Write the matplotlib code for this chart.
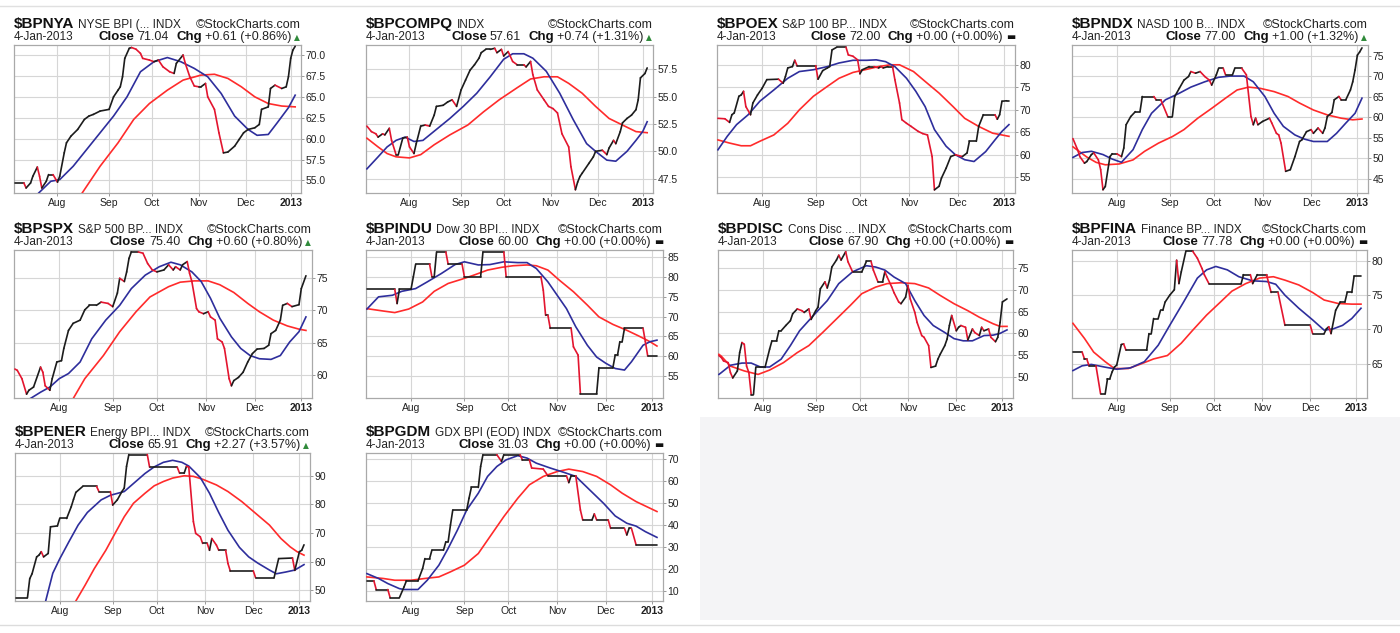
import matplotlib
matplotlib.use("Agg")
import matplotlib.pyplot as plt
from matplotlib.collections import LineCollection
from matplotlib.patches import Rectangle
from matplotlib.lines import Line2D
import numpy as np
import pandas as pd

plt.rcParams['font.family'] = ['Liberation Sans', 'DejaVu Sans']

# trading sessions shown on every chart
FIRST_DAY = "2012-07-05"
LAST_DAY = "2013-01-04"
HOLIDAYS = ["2012-09-03", "2012-10-29", "2012-10-30", "2012-11-22", "2012-12-25", "2013-01-01"]

SYMBOLS = ["$BPNYA", "$BPCOMPQ", "$BPOEX", "$BPNDX",
           "$BPSPX", "$BPINDU", "$BPDISC", "$BPFINA",
           "$BPENER", "$BPGDM"]
NAMES = ["NYSE BPI (... INDX", "INDX", "S&P 100 BP... INDX", "NASD 100 B... INDX",
         "S&P 500 BP... INDX", "Dow 30 BPI... INDX", "Cons Disc ... INDX", "Finance BP... INDX",
         "Energy BPI... INDX", "GDX BPI (EOD) INDX"]
CLOSES = ["71.04", "57.61", "72.00", "77.00", "75.40", "60.00", "67.90", "77.78", "65.91", "31.03"]
CHANGES = ["+0.61 (+0.86%)", "+0.74 (+1.31%)", "+0.00 (+0.00%)", "+1.00 (+1.32%)",
           "+0.60 (+0.80%)", "+0.00 (+0.00%)", "+0.00 (+0.00%)", "+0.00 (+0.00%)",
           "+2.27 (+3.57%)", "+0.00 (+0.00%)"]
DATE_LABEL = "4-Jan-2013"

YTICKS = [
    [55.0, 57.5, 60.0, 62.5, 65.0, 67.5, 70.0],
    [47.5, 50.0, 52.5, 55.0, 57.5],
    [55, 60, 65, 70, 75, 80],
    [45, 50, 55, 60, 65, 70, 75],
    [60, 65, 70, 75],
    [55, 60, 65, 70, 75, 80, 85],
    [50, 55, 60, 65, 70, 75],
    [65, 70, 75, 80],
    [50, 60, 70, 80, 90],
    [10, 20, 30, 40, 50, 60, 70],
]

# ---- $BPNYA
NYA_CLOSE = [("07-05", 54.7), ("07-11", 54.7), ("07-12", 54.1), ("07-16", 54.7), ("07-17", 55.5),
             ("07-19", 56.6), ("07-20", 55.5), ("07-23", 54.1), ("07-25", 54.9), ("07-26", 55.7),
             ("07-30", 55.7), ("08-01", 54.8), ("08-02", 55.5), ("08-06", 58.3), ("08-07", 59.5),
             ("08-09", 60.3), ("08-14", 61.1), ("08-17", 62.3), ("08-21", 62.7), ("08-23", 62.9),
             ("08-28", 63.3), ("09-04", 63.5), ("09-06", 65.0), ("09-10", 65.8), ("09-11", 66.2),
             ("09-12", 67.4), ("09-13", 69.6), ("09-17", 70.8), ("09-18", 70.9), ("09-20", 70.7),
             ("09-24", 70.2), ("09-25", 69.6), ("09-28", 69.4), ("10-02", 69.2), ("10-04", 69.4),
             ("10-08", 68.6), ("10-11", 68.0), ("10-15", 67.8), ("10-16", 69.0), ("10-19", 70.0),
             ("10-22", 69.0), ("10-24", 67.4), ("10-26", 66.3), ("11-01", 66.2), ("11-02", 66.2),
             ("11-06", 66.6), ("11-07", 65.0), ("11-12", 63.5), ("11-14", 60.7), ("11-16", 58.3),
             ("11-20", 58.4), ("11-26", 59.1), ("11-28", 59.9), ("11-30", 60.7), ("12-04", 61.1),
             ("12-07", 61.3), ("12-11", 61.7), ("12-12", 63.5), ("12-17", 63.8), ("12-18", 66.0),
             ("12-20", 66.4), ("12-26", 66.0), ("12-28", 66.2), ("12-31", 67.4), ("01-02", 69.6),
             ("01-03", 70.6), ("01-04", 71.04)]
NYA_MA10 = [("07-17", 52.8), ("07-20", 53.6), ("07-27", 54.9), ("08-02", 55.1), ("08-10", 56.7),
            ("08-20", 58.7), ("08-28", 60.7), ("09-06", 62.7), ("09-14", 65.0), ("09-24", 68.0),
            ("10-02", 69.2), ("10-10", 69.7), ("10-18", 69.2), ("10-26", 68.4), ("11-07", 67.4),
            ("11-15", 65.4), ("11-26", 62.7), ("12-04", 61.1), ("12-10", 60.4), ("12-17", 60.5),
            ("12-21", 61.9), ("12-31", 63.7), ("01-04", 65.2)]
NYA_MA30 = [("08-14", 52.8), ("08-16", 53.5), ("08-28", 56.7), ("09-10", 59.5), ("09-19", 62.3),
            ("09-28", 64.2), ("10-10", 65.8), ("10-19", 67.0), ("11-02", 67.6), ("11-12", 67.7),
            ("11-20", 67.2), ("11-29", 66.2), ("12-07", 65.0), ("12-17", 64.2), ("12-26", 63.9),
            ("01-04", 63.8)]

# ---- $BPCOMPQ
COMPQ_CLOSE = [("07-05", 52.3), ("07-09", 51.8), ("07-11", 51.6), ("07-12", 51.3), ("07-16", 51.6),
               ("07-17", 51.5), ("07-19", 52.1), ("07-20", 51.0), ("07-24", 49.7), ("07-25", 49.7),
               ("07-27", 51.2), ("07-31", 51.3), ("08-01", 50.4), ("08-03", 49.8), ("08-06", 50.7),
               ("08-08", 52.3), ("08-10", 52.4), ("08-14", 52.3), ("08-16", 53.3), ("08-17", 54.1),
               ("08-22", 54.2), ("08-24", 54.5), ("08-28", 54.7), ("08-30", 54.1), ("09-04", 55.6),
               ("09-06", 56.5), ("09-10", 57.4), ("09-12", 57.9), ("09-14", 58.5), ("09-17", 59.0),
               ("09-19", 59.3), ("09-21", 59.3), ("09-25", 59.4), ("09-26", 59.0), ("09-28", 59.3),
               ("10-01", 58.7), ("10-03", 59.1), ("10-05", 58.2), ("10-09", 57.9), ("10-12", 57.9),
               ("10-15", 57.7), ("10-17", 58.2), ("10-18", 57.0), ("10-22", 55.6), ("10-25", 54.7),
               ("10-31", 54.1), ("11-02", 53.9), ("11-06", 53.5), ("11-08", 51.6), ("11-13", 50.4),
               ("11-14", 48.6), ("11-16", 46.5), ("11-19", 47.2), ("11-20", 47.7), ("11-21", 48.0),
               ("11-27", 48.9), ("11-29", 49.5), ("11-30", 50.0), ("12-05", 50.1), ("12-07", 49.7),
               ("12-10", 50.3), ("12-12", 51.0), ("12-13", 50.7), ("12-17", 51.8), ("12-18", 52.6),
               ("12-20", 53.0), ("12-24", 53.3), ("12-27", 53.8), ("12-28", 54.7), ("12-31", 56.7),
               ("01-03", 57.1), ("01-04", 57.61)]
COMPQ_MA10 = [("07-05", 48.4), ("07-12", 49.5), ("07-18", 50.4), ("07-24", 51.0), ("07-30", 51.3),
              ("08-03", 50.9), ("08-09", 51.0), ("08-17", 52.0), ("08-27", 53.0), ("09-05", 54.1),
              ("09-13", 55.3), ("09-21", 56.8), ("10-01", 58.4), ("10-05", 58.9), ("10-12", 58.9),
              ("10-18", 58.5), ("10-26", 57.3), ("11-07", 55.3), ("11-15", 52.9), ("11-26", 50.7),
              ("11-30", 50.0), ("12-07", 49.2), ("12-13", 49.1), ("12-20", 50.0), ("12-27", 51.0),
              ("01-02", 51.8), ("01-04", 52.7)]
COMPQ_MA30 = [("07-05", 51.2), ("07-12", 50.4), ("07-18", 49.8), ("07-24", 49.5), ("08-01", 49.4),
              ("08-08", 49.7), ("08-16", 50.6), ("08-27", 51.5), ("09-07", 52.4), ("09-18", 53.6),
              ("09-27", 54.7), ("10-09", 55.8), ("10-17", 56.6), ("10-25", 56.8), ("11-06", 56.8),
              ("11-13", 56.2), ("11-21", 55.3), ("11-30", 54.1), ("12-10", 53.0), ("12-18", 52.4),
              ("12-27", 51.8), ("01-04", 51.7)]

# ---- $BPOEX
OEX_CLOSE = [("07-05", 68.1), ("07-10", 68.0), ("07-12", 67.2), ("07-13", 68.9), ("07-16", 69.3),
             ("07-18", 73.0), ("07-19", 73.3), ("07-20", 74.1), ("07-23", 70.7), ("07-25", 68.9),
             ("07-26", 71.5), ("07-30", 73.3), ("08-01", 74.8), ("08-03", 76.7), ("08-10", 76.8),
             ("08-14", 75.9), ("08-15", 77.4), ("08-16", 79.3), ("08-20", 79.6), ("08-21", 81.0),
             ("08-22", 79.8), ("09-04", 79.8), ("09-05", 76.8), ("09-07", 78.7), ("09-11", 79.3),
             ("09-12", 79.6), ("09-13", 83.3), ("09-17", 83.9), ("09-21", 83.9), ("09-24", 82.2),
             ("09-26", 81.9), ("09-28", 81.1), ("10-01", 78.0), ("10-02", 78.9), ("10-05", 79.6),
             ("10-09", 79.6), ("10-11", 79.3), ("10-12", 79.6), ("10-15", 79.3), ("10-17", 79.6),
             ("10-19", 79.6), ("10-22", 76.7), ("10-24", 71.5), ("10-25", 67.8), ("10-31", 67.0),
             ("11-02", 66.3), ("11-07", 65.2), ("11-09", 64.7), ("11-13", 64.4), ("11-15", 59.6),
             ("11-16", 52.2), ("11-20", 53.0), ("11-21", 54.8), ("11-26", 57.0), ("11-28", 59.6),
             ("11-30", 60.0), ("12-05", 59.6), ("12-07", 60.4), ("12-10", 63.0), ("12-13", 63.0),
             ("12-14", 66.3), ("12-18", 68.9), ("12-26", 68.9), ("12-27", 67.9), ("12-28", 68.9),
             ("12-31", 71.9), ("01-03", 72.0), ("01-04", 72.0)]
OEX_MA10 = [("07-05", 61.1), ("07-11", 64.1), ("07-17", 66.7), ("07-24", 68.9), ("07-31", 71.9),
            ("08-08", 74.4), ("08-16", 77.0), ("08-23", 78.5), ("08-31", 78.9), ("09-11", 79.6),
            ("09-18", 80.4), ("09-26", 81.0), ("10-04", 81.0), ("10-10", 81.1), ("10-16", 80.7),
            ("10-22", 79.6), ("10-31", 77.0), ("11-06", 74.1), ("11-12", 70.7), ("11-16", 65.6),
            ("11-26", 61.9), ("11-30", 60.0), ("12-06", 58.9), ("12-12", 58.5), ("12-19", 60.7),
            ("12-26", 63.3), ("12-31", 65.2), ("01-04", 66.7)]
OEX_MA30 = [("07-05", 63.3), ("07-12", 62.6), ("07-19", 62.0), ("07-25", 62.0), ("07-31", 63.0),
            ("08-08", 64.4), ("08-16", 67.0), ("08-23", 70.0), ("08-31", 73.0), ("09-11", 75.2),
            ("09-18", 77.0), ("09-26", 78.3), ("10-04", 79.0), ("10-11", 79.6), ("10-18", 80.0),
            ("10-24", 80.0), ("11-05", 78.5), ("11-12", 76.3), ("11-20", 73.7), ("11-29", 70.7),
            ("12-06", 68.1), ("12-14", 66.3), ("12-24", 64.8), ("12-31", 64.4), ("01-04", 64.1)]

# ---- $BPNDX
NDX_CLOSE = [("07-05", 54.8), ("07-09", 52.1), ("07-10", 50.4), ("07-12", 48.8), ("07-13", 49.2),
             ("07-17", 50.9), ("07-18", 51.3), ("07-20", 49.6), ("07-23", 47.2), ("07-24", 42.3),
             ("07-25", 43.1), ("07-27", 50.4), ("07-30", 51.1), ("08-01", 51.1), ("08-03", 50.4),
             ("08-06", 52.5), ("08-07", 58.2), ("08-09", 60.2), ("08-13", 61.4), ("08-15", 61.4),
             ("08-16", 65.1), ("08-23", 65.1), ("08-24", 64.3), ("08-28", 64.3), ("08-31", 60.2),
             ("09-05", 60.2), ("09-06", 65.1), ("09-10", 67.1), ("09-12", 69.1), ("09-14", 70.0),
             ("09-17", 71.2), ("09-19", 70.8), ("09-21", 71.2), ("09-25", 70.0), ("09-27", 69.1),
             ("09-28", 67.9), ("10-02", 70.4), ("10-03", 72.0), ("10-05", 72.0), ("10-08", 70.4),
             ("10-11", 70.4), ("10-12", 72.0), ("10-17", 72.0), ("10-19", 70.4), ("10-23", 60.2),
             ("10-24", 58.2), ("10-25", 59.8), ("10-26", 58.2), ("11-01", 59.0), ("11-06", 59.8),
             ("11-07", 58.6), ("11-09", 56.1), ("11-12", 55.7), ("11-13", 53.7), ("11-15", 46.8),
             ("11-19", 47.2), ("11-21", 50.4), ("11-26", 54.1), ("11-27", 54.5), ("11-29", 56.5),
             ("12-03", 57.0), ("12-04", 56.1), ("12-06", 57.4), ("12-10", 56.1), ("12-11", 57.4),
             ("12-12", 60.2), ("12-14", 61.2), ("12-17", 64.3), ("12-19", 65.1), ("12-20", 64.3),
             ("12-24", 64.3), ("12-27", 66.7), ("12-28", 68.7), ("12-31", 71.6), ("01-02", 75.2),
             ("01-03", 76.0), ("01-04", 77.0)]
NDX_MA10 = [("07-05", 50.2), ("07-11", 51.4), ("07-17", 51.7), ("07-24", 50.9), ("07-30", 49.8),
            ("08-03", 49.0), ("08-10", 52.1), ("08-16", 57.0), ("08-22", 61.0), ("08-30", 64.3),
            ("09-10", 65.9), ("09-17", 67.4), ("09-25", 68.7), ("10-03", 69.8), ("10-10", 70.1),
            ("10-18", 70.1), ("10-24", 68.7), ("11-02", 65.1), ("11-08", 61.0), ("11-14", 57.8),
            ("11-21", 55.7), ("11-28", 54.7), ("12-04", 54.1), ("12-12", 54.1), ("12-18", 56.1),
            ("12-24", 58.6), ("12-31", 61.0), ("01-04", 64.7)]
NDX_MA30 = [("07-05", 52.8), ("07-13", 50.3), ("07-19", 49.0), ("07-25", 48.4), ("08-02", 48.6),
            ("08-10", 49.6), ("08-17", 51.7), ("08-27", 53.7), ("09-05", 55.3), ("09-12", 57.0),
            ("09-20", 59.8), ("09-28", 62.2), ("10-08", 64.7), ("10-15", 66.7), ("10-22", 67.4),
            ("10-31", 67.1), ("11-08", 66.3), ("11-16", 65.1), ("11-26", 63.5), ("12-04", 61.8),
            ("12-12", 60.6), ("12-20", 59.8), ("12-28", 59.4), ("01-04", 59.6)]

# ---- $BPSPX
SPX_CLOSE = [("07-05", 60.9), ("07-06", 60.7), ("07-10", 59.4), ("07-12", 57.0), ("07-13", 57.6),
             ("07-17", 58.1), ("07-20", 61.2), ("07-23", 60.4), ("07-24", 58.3), ("07-26", 57.6),
             ("07-27", 59.4), ("07-31", 62.0), ("08-02", 62.2), ("08-03", 64.1), ("08-07", 66.9),
             ("08-09", 68.0), ("08-14", 68.5), ("08-16", 70.1), ("08-20", 70.8), ("08-23", 70.8),
             ("08-27", 71.3), ("08-30", 71.1), ("09-04", 70.6), ("09-06", 72.7), ("09-07", 75.0),
             ("09-11", 74.5), ("09-12", 76.0), ("09-13", 78.1), ("09-14", 79.1), ("09-19", 79.1),
             ("09-21", 78.9), ("09-25", 77.3), ("09-27", 76.3), ("10-01", 76.0), ("10-04", 76.3),
             ("10-08", 77.1), ("10-10", 76.3), ("10-11", 76.8), ("10-15", 76.3), ("10-16", 77.1),
             ("10-18", 77.6), ("10-19", 75.8), ("10-22", 74.5), ("10-24", 70.3), ("10-25", 69.8),
             ("10-31", 69.5), ("11-02", 69.8), ("11-05", 69.0), ("11-07", 68.5), ("11-08", 65.6),
             ("11-12", 65.1), ("11-13", 64.1), ("11-15", 59.4), ("11-16", 58.3), ("11-19", 59.1),
             ("11-21", 59.6), ("11-26", 60.4), ("11-28", 62.0), ("11-30", 63.3), ("12-04", 64.0),
             ("12-07", 64.1), ("12-11", 64.6), ("12-12", 66.4), ("12-14", 66.9), ("12-18", 68.5),
             ("12-19", 70.8), ("12-21", 71.1), ("12-26", 70.6), ("12-31", 70.9), ("01-02", 73.4),
             ("01-04", 75.4)]
SPX_MA10 = [("07-11", 55.8), ("07-16", 56.4), ("07-20", 57.3), ("07-26", 58.1), ("08-01", 59.4),
            ("08-07", 60.2), ("08-14", 62.0), ("08-21", 65.6), ("08-29", 68.5), ("09-07", 70.8),
            ("09-14", 73.4), ("09-24", 75.5), ("10-02", 76.8), ("10-09", 77.5), ("10-15", 77.1),
            ("10-22", 76.0), ("10-26", 74.5), ("11-05", 71.9), ("11-09", 68.8), ("11-16", 65.9),
            ("11-23", 64.1), ("11-29", 63.0), ("12-05", 62.5), ("12-12", 62.4), ("12-18", 63.0),
            ("12-24", 65.1), ("12-31", 66.7), ("01-04", 69.0)]
SPX_MA30 = [("08-09", 56.3), ("08-16", 59.4), ("08-28", 63.0), ("09-07", 66.7), ("09-18", 69.8),
            ("09-26", 72.1), ("10-08", 73.7), ("10-15", 74.4), ("10-23", 74.6), ("11-02", 74.6),
            ("11-09", 74.0), ("11-19", 72.8), ("11-28", 71.1), ("12-05", 69.8), ("12-13", 68.5),
            ("12-21", 67.6), ("12-31", 67.1), ("01-04", 66.9)]

# ---- $BPINDU
INDU_CLOSE = [("07-05", 76.9), ("07-23", 76.9), ("07-24", 73.3), ("07-25", 76.9), ("08-01", 76.9),
              ("08-02", 80.1), ("08-03", 83.3), ("08-13", 83.3), ("08-14", 80.1), ("08-15", 80.1),
              ("08-16", 86.4), ("08-22", 86.4), ("08-23", 83.3), ("08-31", 83.3), ("09-04", 80.1),
              ("09-13", 80.1), ("09-14", 86.4), ("09-27", 86.4), ("09-28", 80.1), ("10-19", 80.1),
              ("10-22", 76.7), ("10-23", 70.3), ("10-24", 70.3), ("10-25", 67.0), ("11-09", 67.0),
              ("11-12", 62.3), ("11-14", 60.2), ("11-15", 50.4), ("11-27", 50.4), ("11-28", 57.0),
              ("12-06", 57.0), ("12-07", 60.2), ("12-10", 60.2), ("12-11", 63.6), ("12-12", 63.6),
              ("12-13", 67.0), ("12-26", 67.0), ("12-27", 63.6), ("12-28", 60.0), ("01-04", 60.0)]
INDU_MA10 = [("07-05", 71.9), ("07-12", 75.0), ("07-20", 75.4), ("07-26", 76.4), ("08-03", 77.1),
             ("08-10", 78.8), ("08-20", 80.9), ("08-28", 83.2), ("09-04", 83.9), ("09-12", 83.1),
             ("09-19", 83.2), ("09-27", 83.9), ("10-05", 83.7), ("10-11", 83.7), ("10-17", 82.2),
             ("10-24", 78.8), ("11-01", 75.4), ("11-07", 72.0), ("11-13", 67.4), ("11-20", 62.7),
             ("11-27", 59.7), ("12-03", 58.1), ("12-07", 56.8), ("12-13", 56.4), ("12-18", 58.5),
             ("12-26", 62.7), ("12-31", 63.6), ("01-04", 64.0)]
INDU_MA30 = [("07-05", 72.0), ("07-16", 71.4), ("07-23", 71.0), ("07-31", 71.9), ("08-08", 73.7),
             ("08-15", 76.4), ("08-23", 78.4), ("08-31", 79.5), ("09-10", 80.5), ("09-18", 81.8),
             ("09-26", 82.5), ("10-03", 82.9), ("10-11", 83.1), ("10-17", 82.9), ("10-24", 81.8),
             ("11-02", 79.2), ("11-12", 76.3), ("11-20", 72.9), ("11-28", 69.9), ("12-06", 68.0),
             ("12-14", 66.5), ("12-21", 65.1), ("12-31", 63.6), ("01-04", 62.5)]

# ---- $BPDISC
DISC_CLOSE = [("07-05", 54.9), ("07-06", 54.5), ("07-09", 53.7), ("07-11", 53.3), ("07-12", 51.0),
              ("07-13", 49.8), ("07-17", 51.4), ("07-18", 55.6), ("07-19", 57.9), ("07-20", 57.5),
              ("07-23", 52.5), ("07-24", 51.0), ("07-25", 46.0), ("07-26", 46.0), ("07-27", 52.2),
              ("08-02", 52.2), ("08-06", 56.4), ("08-07", 58.3), ("08-09", 58.3), ("08-10", 60.6),
              ("08-13", 60.6), ("08-15", 61.8), ("08-17", 62.9), ("08-20", 64.5), ("08-22", 65.6),
              ("08-24", 65.2), ("08-27", 64.8), ("08-29", 65.6), ("08-30", 63.2), ("09-04", 65.2),
              ("09-05", 66.0), ("09-06", 70.2), ("09-10", 71.8), ("09-11", 70.4), ("09-12", 72.2),
              ("09-13", 75.2), ("09-17", 76.8), ("09-18", 77.9), ("09-19", 76.8), ("09-21", 78.7),
              ("09-24", 76.4), ("09-26", 74.1), ("10-02", 74.1), ("10-04", 76.5), ("10-08", 76.5),
              ("10-09", 74.5), ("10-11", 71.8), ("10-15", 71.8), ("10-16", 74.1), ("10-17", 72.9),
              ("10-19", 70.6), ("10-22", 69.3), ("10-24", 67.2), ("10-25", 66.8), ("10-31", 68.3),
              ("11-01", 71.0), ("11-02", 67.9), ("11-06", 64.8), ("11-07", 62.5), ("11-09", 59.5),
              ("11-12", 59.1), ("11-14", 57.2), ("11-15", 52.2), ("11-19", 52.5), ("11-20", 54.1),
              ("11-21", 55.2), ("11-26", 57.2), ("11-27", 58.7), ("11-28", 61.8), ("11-29", 64.1),
              ("12-03", 60.6), ("12-04", 61.4), ("12-05", 61.8), ("12-07", 61.4), ("12-10", 58.5),
              ("12-12", 61.0), ("12-13", 60.2), ("12-17", 59.5), ("12-18", 61.4), ("12-19", 60.6),
              ("12-21", 61.0), ("12-24", 59.1), ("12-27", 58.1), ("12-28", 59.1), ("12-31", 62.5),
              ("01-02", 67.2), ("01-04", 67.9)]
DISC_MA10 = [("07-05", 50.6), ("07-06", 51.0), ("07-12", 52.7), ("07-19", 53.2), ("07-25", 53.2),
             ("07-31", 52.3), ("08-06", 52.3), ("08-13", 54.1), ("08-17", 57.2), ("08-23", 60.6),
             ("08-31", 64.1), ("09-11", 67.5), ("09-18", 71.4), ("09-26", 74.1), ("10-04", 75.5),
             ("10-10", 75.2), ("10-16", 74.5), ("10-22", 72.9), ("10-31", 71.4), ("11-06", 67.5),
             ("11-12", 64.1), ("11-16", 61.8), ("11-26", 60.2), ("11-30", 58.8), ("12-06", 58.3),
             ("12-12", 58.3), ("12-19", 59.5), ("12-26", 59.6), ("12-31", 60.0), ("01-04", 60.8)]
DISC_MA30 = [("07-05", 55.2), ("07-06", 54.8), ("07-12", 52.5), ("07-20", 51.4), ("07-30", 50.6),
             ("08-06", 51.6), ("08-14", 53.3), ("08-22", 55.6), ("08-29", 57.2), ("09-07", 60.2),
             ("09-17", 63.3), ("09-25", 66.4), ("10-02", 69.1), ("10-10", 70.6), ("10-17", 71.4),
             ("10-25", 71.6), ("11-06", 71.4), ("11-14", 70.4), ("11-21", 68.7), ("11-30", 66.8),
             ("12-10", 65.2), ("12-17", 63.7), ("12-26", 62.2), ("12-31", 61.6), ("01-04", 61.6)]

# ---- $BPFINA
FINA_CLOSE = [("07-05", 66.7), ("07-11", 66.7), ("07-12", 65.7), ("07-13", 65.7), ("07-16", 64.7),
              ("07-19", 64.7), ("07-23", 60.6), ("07-25", 60.6), ("07-26", 62.8), ("07-27", 62.8),
              ("07-30", 63.8), ("07-31", 64.5), ("08-01", 64.8), ("08-03", 67.8), ("08-06", 67.9),
              ("08-07", 67.0), ("08-20", 67.0), ("08-21", 69.4), ("08-22", 69.4), ("08-23", 71.6),
              ("08-27", 71.6), ("08-28", 72.8), ("08-29", 72.8), ("08-30", 74.0), ("09-04", 75.0),
              ("09-06", 75.8), ("09-07", 80.1), ("09-10", 76.7), ("09-11", 78.4), ("09-13", 81.4),
              ("09-18", 81.4), ("09-20", 80.4), ("09-24", 78.9), ("09-25", 78.0), ("09-27", 76.7),
              ("10-17", 76.7), ("10-18", 78.0), ("10-23", 78.0), ("10-24", 76.7), ("10-26", 78.0),
              ("11-05", 78.0), ("11-07", 75.4), ("11-12", 75.4), ("11-15", 70.6), ("12-03", 70.6),
              ("12-04", 69.4), ("12-11", 69.4), ("12-12", 70.1), ("12-13", 70.4), ("12-14", 69.4),
              ("12-18", 72.8), ("12-20", 74.0), ("12-24", 74.0), ("12-26", 75.4), ("12-28", 75.4),
              ("12-31", 77.78), ("01-04", 77.78)]
FINA_MA10 = [("07-05", 64.0), ("07-11", 64.7), ("07-17", 64.9), ("07-25", 64.5), ("08-01", 64.2),
             ("08-09", 64.4), ("08-17", 65.3), ("08-27", 67.7), ("09-04", 70.6), ("09-12", 74.0),
             ("09-20", 77.5), ("09-26", 78.7), ("10-02", 79.2), ("10-09", 78.7), ("10-16", 77.7),
             ("10-24", 77.1), ("11-05", 77.0), ("11-09", 76.6), ("11-15", 75.0), ("11-26", 73.1),
             ("12-04", 71.4), ("12-11", 69.9), ("12-17", 70.1), ("12-21", 70.6), ("12-28", 71.6),
             ("01-04", 73.1)]
FINA_MA30 = [("07-05", 70.9), ("07-12", 68.7), ("07-18", 66.7), ("07-25", 65.3), ("07-31", 64.3),
             ("08-08", 64.3), ("08-15", 64.9), ("08-23", 65.7), ("08-31", 66.2), ("09-11", 68.0),
             ("09-18", 69.9), ("09-26", 72.1), ("10-04", 74.0), ("10-11", 75.6), ("10-19", 76.7),
             ("10-31", 77.5), ("11-08", 77.7), ("11-15", 77.2), ("11-26", 76.5), ("12-04", 75.4),
             ("12-11", 74.3), ("12-19", 73.8), ("12-28", 73.7), ("01-04", 73.7)]

# ---- $BPENER
ENER_CLOSE = [("07-05", 47.4), ("07-12", 47.4), ("07-13", 54.1), ("07-16", 55.8), ("07-18", 61.7),
              ("07-19", 62.3), ("07-20", 63.5), ("07-23", 61.7), ("07-25", 62.9), ("07-26", 72.2),
              ("07-31", 72.5), ("08-01", 75.1), ("08-06", 75.1), ("08-08", 79.2), ("08-09", 81.8),
              ("08-10", 84.2), ("08-15", 86.3), ("08-23", 86.3), ("08-24", 84.5), ("08-31", 84.5),
              ("09-04", 79.8), ("09-06", 81.6), ("09-10", 84.5), ("09-11", 85.7), ("09-12", 93.3),
              ("09-13", 97.4), ("09-25", 97.4), ("09-26", 93.0), ("10-12", 93.0), ("10-15", 90.9),
              ("10-17", 90.9), ("10-18", 93.3), ("10-19", 93.0), ("10-23", 74.0), ("10-24", 69.9),
              ("10-26", 68.7), ("10-31", 66.4), ("11-02", 66.4), ("11-05", 64.0), ("11-06", 68.1),
              ("11-08", 65.8), ("11-09", 64.0), ("11-14", 64.0), ("11-15", 59.4), ("11-16", 56.8),
              ("12-03", 56.8), ("12-04", 54.4), ("12-14", 54.4), ("12-18", 61.1), ("12-27", 61.3),
              ("12-28", 57.0), ("01-02", 63.5), ("01-03", 64.0), ("01-04", 65.91)]
ENER_MA10 = [("07-23", 43.4), ("07-24", 46.6), ("07-27", 56.0), ("08-01", 61.0), ("08-07", 67.0),
             ("08-13", 72.8), ("08-17", 77.2), ("08-27", 81.6), ("08-31", 83.2), ("09-11", 84.5),
             ("09-17", 87.3), ("09-24", 90.8), ("09-28", 93.1), ("10-04", 94.7), ("10-10", 95.4),
             ("10-16", 94.7), ("10-19", 93.4), ("10-26", 89.4), ("11-05", 83.9), ("11-09", 77.2),
             ("11-15", 71.0), ("11-23", 65.0), ("11-29", 61.7), ("12-05", 59.5), ("12-12", 57.1),
             ("12-17", 55.8), ("12-21", 56.4), ("12-28", 57.1), ("01-04", 59.0)]
ENER_MA30 = [("08-09", 45.0), ("08-10", 46.3), ("08-16", 51.8), ("08-22", 57.6), ("08-29", 64.0),
             ("09-05", 69.9), ("09-11", 75.7), ("09-17", 80.4), ("09-24", 83.9), ("09-28", 86.5),
             ("10-04", 88.0), ("10-10", 89.2), ("10-17", 90.0), ("10-23", 89.8), ("10-31", 88.8),
             ("11-08", 86.8), ("11-15", 84.5), ("11-26", 81.0), ("12-04", 76.9), ("12-12", 72.8),
             ("12-19", 68.1), ("12-26", 65.2), ("12-31", 63.5), ("01-04", 62.3)]

# ---- $BPGDM
GDM_CLOSE = [("07-05", 14.7), ("07-10", 14.7), ("07-11", 10.8), ("07-18", 10.8), ("07-19", 7.1),
             ("07-25", 7.1), ("07-27", 12.0), ("07-30", 14.7), ("08-06", 14.7), ("08-08", 20.3),
             ("08-09", 24.8), ("08-13", 24.8), ("08-14", 28.6), ("08-21", 28.6), ("08-22", 32.4),
             ("08-23", 32.4), ("08-24", 40.0), ("08-27", 46.8), ("09-05", 46.8), ("09-06", 52.1),
             ("09-07", 57.0), ("09-12", 57.0), ("09-13", 66.5), ("09-14", 71.8), ("09-24", 71.8),
             ("09-26", 68.8), ("09-27", 71.8), ("10-08", 71.8), ("10-09", 69.5), ("10-12", 69.5),
             ("10-15", 65.8), ("10-22", 65.3), ("10-24", 62.3), ("11-07", 62.3), ("11-08", 59.2),
             ("11-09", 62.3), ("11-13", 62.3), ("11-15", 46.8), ("11-16", 42.3), ("11-23", 42.3),
             ("11-26", 45.0), ("11-27", 42.3), ("12-04", 42.3), ("12-05", 38.5), ("12-13", 38.5),
             ("12-14", 35.5), ("12-17", 38.5), ("12-18", 38.5), ("12-20", 31.03), ("01-04", 31.03)]
GDM_MA10 = [("07-05", 18.0), ("07-12", 15.8), ("07-18", 13.5), ("07-25", 11.2), ("07-27", 10.8),
            ("08-06", 10.8), ("08-10", 15.0), ("08-17", 21.8), ("08-23", 29.4), ("08-29", 37.7),
            ("09-05", 46.8), ("09-12", 54.4), ("09-18", 62.0), ("09-24", 66.5), ("09-28", 69.5),
            ("10-05", 71.4), ("10-11", 70.3), ("10-17", 68.0), ("10-25", 65.8), ("11-06", 63.8),
            ("11-13", 62.0), ("11-21", 55.9), ("11-30", 49.8), ("12-07", 44.1), ("12-14", 40.8),
            ("12-20", 39.5), ("12-27", 37.0), ("01-04", 34.4)]
GDM_MA30 = [("07-05", 16.5), ("07-16", 15.8), ("07-23", 15.0), ("08-01", 15.0), ("08-09", 15.8),
            ("08-17", 16.5), ("08-24", 18.8), ("09-04", 21.8), ("09-12", 27.1), ("09-19", 34.7),
            ("09-27", 43.8), ("10-05", 52.1), ("10-12", 58.2), ("10-22", 62.0), ("11-01", 64.2),
            ("11-08", 65.3), ("11-16", 64.2), ("11-27", 62.0), ("12-05", 58.2), ("12-12", 54.4),
            ("12-20", 50.6), ("12-31", 47.6), ("01-04", 46.1)]

CLOSE_SERIES = [NYA_CLOSE, COMPQ_CLOSE, OEX_CLOSE, NDX_CLOSE, SPX_CLOSE,
                INDU_CLOSE, DISC_CLOSE, FINA_CLOSE, ENER_CLOSE, GDM_CLOSE]
FAST_SERIES = [NYA_MA10, COMPQ_MA10, OEX_MA10, NDX_MA10, SPX_MA10,
               INDU_MA10, DISC_MA10, FINA_MA10, ENER_MA10, GDM_MA10]
SLOW_SERIES = [NYA_MA30, COMPQ_MA30, OEX_MA30, NDX_MA30, SPX_MA30,
               INDU_MA30, DISC_MA30, FINA_MA30, ENER_MA30, GDM_MA30]

# --- calendar -> bar number (StockCharts spaces bars evenly, no gaps)
sessions = pd.bdate_range(FIRST_DAY, LAST_DAY)
sessions = sessions[~sessions.isin(pd.to_datetime(HOLIDAYS))]
bar_of = {d.strftime("%m-%d"): i for i, d in enumerate(sessions)}
month_bars = [i for i in range(1, len(sessions)) if sessions[i].month != sessions[i - 1].month]
month_labels = ["2013" if sessions[i].year == 2013 else sessions[i].strftime("%b") for i in month_bars]


def to_xy(pairs):
    x = np.array([bar_of[d] for d, _ in pairs], dtype=float)
    y = np.array([v for _, v in pairs], dtype=float)
    return x, y


# layout in pixels (left, right, top, bottom) of each plot box
W, H = 1400, 633
panel_left = [14, 366, 717, 1072, 14, 366, 718, 1072, 15, 366]
panel_right = [301, 653, 1015, 1368, 312, 663, 1013, 1367, 310, 663]
row_box = [(45, 193), (250, 398), (453, 601)]
ylims = [(53.5, 71.2), (46.2, 59.7), (51.5, 84.4), (41.5, 77.7), (56.4, 79.4),
         (49.3, 86.9), (45.2, 79.1), (60.0, 81.6), (46.3, 97.95), (5.6, 72.6)]

BLACK = "#1c1c1c"
DOWN_RED = "#e3152f"
MA_BLUE = "#2e2e9c"
MA_RED = "#ff2b2b"
GRID = "#d6d6d6"
TXT = "#222222"

fig = plt.figure(figsize=(W / 100, H / 100), dpi=100)
fig.patch.set_facecolor("white")
fig.add_artist(Rectangle((700 / W, 1 - 620 / H), 700 / W, (620 - 417) / H,
                         transform=fig.transFigure, facecolor="#f4f4f6", edgecolor="none", zorder=0))
fig.add_artist(Line2D([0, 1], [1 - 6 / H] * 2, transform=fig.transFigure, color="#e0e0e0", lw=1))
fig.add_artist(Line2D([0, 1], [1 - 625 / H] * 2, transform=fig.transFigure, color="#dcdcdc", lw=1))

for k in range(10):
    top, bot = row_box[k // 4]
    left, right = panel_left[k], panel_right[k]
    ax = fig.add_axes([left / W, 1 - bot / H, (right - left) / W, (bot - top) / H])

    ax.set_xlim(-0.4, 127.6)
    ax.set_ylim(*ylims[k])

    x, y = to_xy(SLOW_SERIES[k])
    ax.plot(x, y, color=MA_RED, lw=1.2, zorder=3)
    x, y = to_xy(FAST_SERIES[k])
    ax.plot(x, y, color=MA_BLUE, lw=1.2, zorder=4)

    # price line coloured by direction of each move
    x, y = to_xy(CLOSE_SERIES[k])
    pts = np.column_stack([x, y])
    segs = np.stack([pts[:-1], pts[1:]], axis=1)
    cols = [DOWN_RED if b < a else BLACK for a, b in zip(y[:-1], y[1:])]
    ax.add_collection(LineCollection(segs, colors=cols, linewidths=1.2,
                                     capstyle="round", joinstyle="round", zorder=5))

    # axes styling
    ticks = YTICKS[k]
    decimals = any(t != int(t) for t in ticks)
    ax.set_yticks(ticks)
    ax.set_yticklabels([f"{t:.1f}" if decimals else f"{int(t)}" for t in ticks])
    ax.yaxis.tick_right()
    ax.set_xticks(month_bars)
    ax.set_xticklabels(month_labels)
    ax.get_xticklabels()[-1].set_fontweight("bold")
    ax.get_xticklabels()[-1].set_fontsize(8)
    ax.grid(True, color=GRID, lw=0.8)
    ax.set_axisbelow(True)
    ax.tick_params(axis="y", direction="out", length=2, width=0.7, color="#999999",
                   pad=1.2, labelsize=7.5, labelcolor=TXT)
    ax.tick_params(axis="x", direction="out", length=2, width=0.7, color="#999999",
                   pad=1.3, labelsize=7.5, labelcolor=TXT)
    for s in ax.spines.values():
        s.set_color("#a9a9a9")
        s.set_linewidth(0.9)

    # header lines
    sym = ax.annotate(SYMBOLS[k], xy=(0, 1), xycoords="axes fraction", xytext=(0, 17),
                      textcoords="offset pixels", ha="left", va="baseline",
                      fontsize=11, fontweight="bold", color="#111111")
    ax.annotate(NAMES[k], xy=(1, 1), xycoords=(sym, "axes fraction"), xytext=(3.5, 17),
                textcoords="offset pixels", ha="left", va="baseline", fontsize=8.5, color=TXT)
    ax.annotate("\u00a9StockCharts.com", xy=(1, 1), xycoords="axes fraction", xytext=(0, 17),
                textcoords="offset pixels", ha="right", va="baseline", fontsize=9, color=TXT)
    ax.annotate(DATE_LABEL, xy=(0, 1), xycoords="axes fraction", xytext=(0, 5),
                textcoords="offset pixels", ha="left", va="baseline", fontsize=8.5, color=TXT)
    if CHANGES[k].startswith("+0.00"):
        mark = ax.annotate("\u25ac", xy=(1, 1), xycoords="axes fraction", xytext=(0, 5),
                           textcoords="offset pixels", ha="right", va="baseline",
                           fontsize=7, color="#111111", family=["DejaVu Sans"])
    else:
        mark = ax.annotate("\u25b2", xy=(1, 1), xycoords="axes fraction", xytext=(-1, 5),
                           textcoords="offset pixels", ha="right", va="baseline",
                           fontsize=5.5, color="#2f8a3a", family=["DejaVu Sans"])
    chg = ax.annotate(CHANGES[k], xy=(0, 1), xycoords=(mark, "axes fraction"), xytext=(-3, 5),
                      textcoords="offset pixels", ha="right", va="baseline", fontsize=9, color=TXT)
    chg_lbl = ax.annotate("Chg", xy=(0, 1), xycoords=(chg, "axes fraction"), xytext=(-3, 5),
                          textcoords="offset pixels", ha="right", va="baseline",
                          fontsize=9.5, fontweight="bold", color="#111111")
    cval = ax.annotate(CLOSES[k], xy=(0, 1), xycoords=(chg_lbl, "axes fraction"), xytext=(-7, 5),
                       textcoords="offset pixels", ha="right", va="baseline", fontsize=9, color=TXT)
    ax.annotate("Close", xy=(0, 1), xycoords=(cval, "axes fraction"), xytext=(-3, 5),
                textcoords="offset pixels", ha="right", va="baseline",
                fontsize=9.5, fontweight="bold", color="#111111")

fig.savefig("out.png", dpi=100)
